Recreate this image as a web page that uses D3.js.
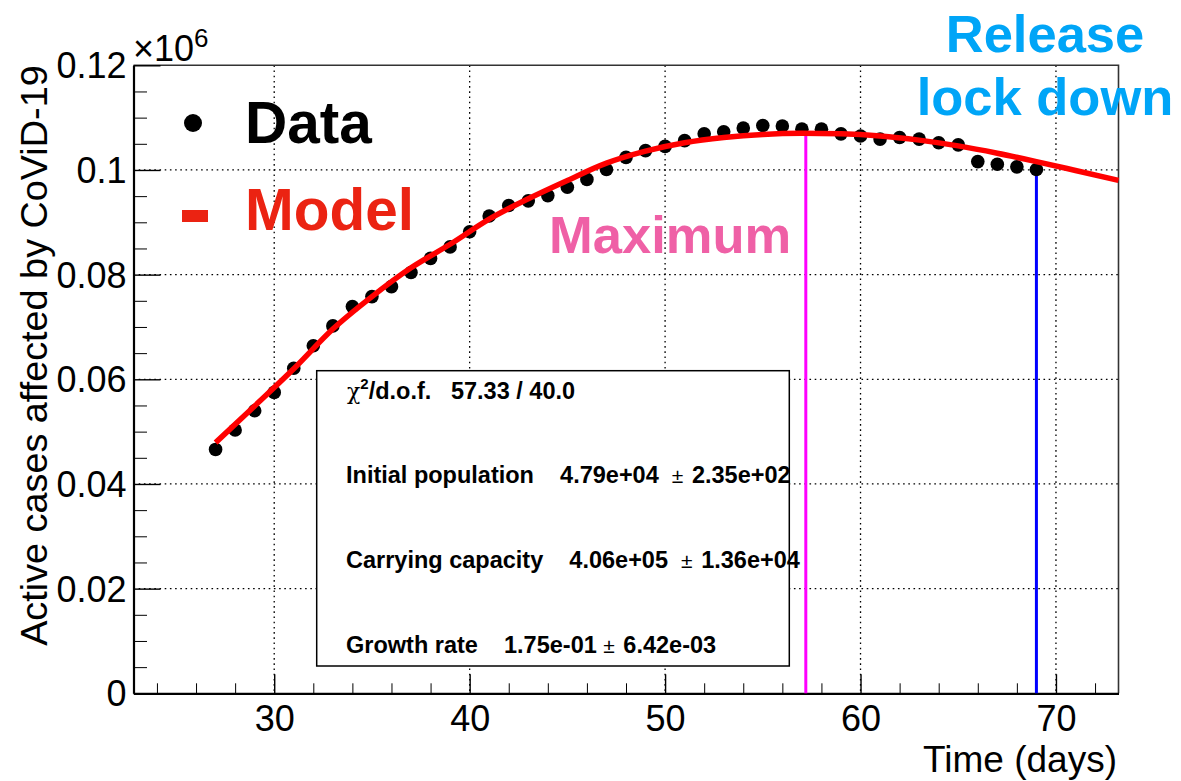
<!DOCTYPE html>
<html>
<head>
<meta charset="utf-8">
<script src="https://cdn.jsdelivr.net/npm/d3@7"></script>
<style>
  html, body { margin: 0; padding: 0; background: #ffffff; }
  svg { display: block; font-family: "Liberation Sans", Arial, Helvetica, sans-serif; }
  .stat { white-space: pre; }
</style>
</head>
<body>
<svg id="chart" width="1181" height="781"></svg>
<script>
// Active cases (in units of 10^6) per day
const days = [27, 28, 29, 30, 31, 32, 33, 34, 35, 36, 37, 38, 39, 40, 41, 42, 43, 44, 45, 46, 47,
              48, 49, 50, 51, 52, 53, 54, 55, 56, 57, 58, 59, 60, 61, 62, 63, 64, 65, 66, 67, 68, 69];
const activeCases = [0.0466, 0.0503, 0.0540, 0.0575, 0.0621, 0.0664, 0.0702, 0.0739, 0.0758, 0.0777,
                     0.0804, 0.0831, 0.0853, 0.0882, 0.0912, 0.0932, 0.0941, 0.0951, 0.0967, 0.0982,
                     0.1001, 0.1024, 0.1037, 0.1045, 0.1056, 0.1069, 0.1073, 0.1080, 0.1085, 0.1084,
                     0.1078, 0.1078, 0.1069, 0.1065, 0.1059, 0.1062, 0.1059, 0.1052, 0.1048, 0.1016,
                     0.1011, 0.1006, 0.1001];

// Fitted model curve
const modelDays = [27, 29, 31, 33, 35, 37, 39, 41, 43, 45, 47, 49, 51, 53, 55, 57, 59, 61, 63, 65, 67, 69, 71, 73.2];
const modelValues = [0.0479, 0.0549, 0.0620, 0.0696, 0.0758, 0.0813, 0.0858, 0.0906, 0.0945, 0.0980,
                     0.1013, 0.1036, 0.1052, 0.1062, 0.1068, 0.1070, 0.1069, 0.1065, 0.1057, 0.1046,
                     0.1032, 0.1016, 0.0999, 0.0980];

// Vertical markers: maximum of the model and release of the lock down
const markerDays = [57.2, 69];
const markerTops = [0.1070, 0.1016];
const markerColors = ["#ff00ff", "#0000ff"];

// Axis ticks
const xMajorTicks = [30, 40, 50, 60, 70];
const xMinorTicks = [24, 26, 28, 32, 34, 36, 38, 42, 44, 46, 48, 52, 54, 56, 58, 62, 64, 66, 68, 72];
const yMajorTicks = [0, 0.02, 0.04, 0.06, 0.08, 0.1, 0.12];
const yTickLabels = ["0", "0.02", "0.04", "0.06", "0.08", "0.1", "0.12"];
const yMinorTicks = [0.005, 0.01, 0.015, 0.025, 0.03, 0.035, 0.045, 0.05, 0.055, 0.065, 0.07, 0.075,
                     0.085, 0.09, 0.095, 0.105, 0.11, 0.115];

// Fit results
const statLines = [
  { label: "Initial population", value: "4.79e+04", error: "2.35e+02", gap: "  " },
  { label: "Carrying capacity", value: "4.06e+05", error: "1.36e+04", gap: "  " },
  { label: "Growth rate", value: "1.75e-01", error: "6.42e-03", gap: " " }
];
const chi2 = "57.33", ndf = "40.0";

const svg = d3.select("#chart");
const plot = { left: 133.5, right: 1118.5, top: 65.3, bottom: 693.3 };
const tickFont = "Liberation Sans, Arial, sans-serif";

const x = d3.scaleLinear().domain([22.8, 73.2]).range([plot.left, plot.right]);
const y = d3.scaleLinear().domain([0, 0.12]).range([plot.bottom, plot.top]);

// dotted grid
const grid = svg.append("g").attr("stroke", "#000").attr("stroke-width", 1.3)
  .attr("stroke-dasharray", "1.6,3.6");
grid.selectAll("line.gx").data(xMajorTicks).join("line")
  .attr("x1", d => x(d)).attr("x2", d => x(d))
  .attr("y1", plot.top).attr("y2", plot.bottom);
grid.selectAll("line.gy").data(yMajorTicks.filter(d => d > 0 && d < 0.12)).join("line")
  .attr("x1", plot.left).attr("x2", plot.right)
  .attr("y1", d => y(d)).attr("y2", d => y(d));

// frame (top and right)
svg.append("path")
  .attr("d", `M${plot.left},${plot.top}H${plot.right}V${plot.bottom}`)
  .attr("fill", "none").attr("stroke", "#333").attr("stroke-width", 1.6);

// x axis
const xAxis = svg.append("g").attr("transform", `translate(0,${plot.bottom})`)
  .call(d3.axisBottom(x).tickValues(xMajorTicks).tickSize(-19).tickSizeOuter(0).tickPadding(12)
    .tickFormat(d3.format("d")));
svg.append("g").attr("transform", `translate(0,${plot.bottom})`)
  .call(d3.axisBottom(x).tickValues(xMinorTicks).tickSize(-10).tickSizeOuter(0).tickFormat(""))
  .call(g => g.select(".domain").remove());
xAxis.select(".domain").attr("stroke-width", 2.2);
xAxis.selectAll(".tick line").attr("stroke-width", 1.4);
xAxis.selectAll(".tick text").attr("font-size", 36).attr("font-family", tickFont).attr("fill", "#000");

// y axis
const yAxis = svg.append("g").attr("transform", `translate(${plot.left},0)`)
  .call(d3.axisLeft(y).tickValues(yMajorTicks).tickSize(-27).tickSizeOuter(0).tickPadding(7)
    .tickFormat((d, i) => yTickLabels[i]));
svg.append("g").attr("transform", `translate(${plot.left},0)`)
  .call(d3.axisLeft(y).tickValues(yMinorTicks).tickSize(-13.5).tickSizeOuter(0).tickFormat(""))
  .call(g => g.select(".domain").remove());
yAxis.select(".domain").attr("stroke-width", 2.2);
yAxis.selectAll(".tick line").attr("stroke-width", 1.4);
yAxis.selectAll(".tick text").attr("font-size", 36).attr("dy", "0.35em")
  .attr("font-family", tickFont).attr("fill", "#000");
svg.selectAll(".tick line").attr("stroke", "#000");

// axis multiplier
const mult = svg.append("text").attr("x", 133).attr("y", 61).attr("font-size", 36).attr("fill", "#000");
mult.append("tspan").text("\u00d710");
mult.append("tspan").attr("font-size", 26).attr("dy", -14).text("6");

// axis titles
svg.append("text").attr("x", 1117).attr("y", 772).attr("text-anchor", "end")
  .attr("font-size", 37).attr("fill", "#000").text("Time (days)");
svg.append("text").attr("transform", `translate(47,${plot.top}) rotate(-90)`)
  .attr("text-anchor", "end").attr("font-size", 37.8).attr("fill", "#000")
  .text("Active cases affected by CoViD-19");

// stat box
const box = { x: 316.7, y: 370.7, w: 472.6, h: 295.3 };
svg.append("rect").attr("x", box.x).attr("y", box.y).attr("width", box.w).attr("height", box.h)
  .attr("fill", "#fff").attr("stroke", "#000").attr("stroke-width", 1.5);
const chiText = svg.append("text").attr("class", "stat").attr("x", 347).attr("y", 399.3)
  .attr("font-size", 23.5).attr("font-weight", "bold").attr("fill", "#000");
chiText.append("tspan").attr("font-weight", "normal").attr("font-family", "DejaVu Serif, serif")
  .attr("font-size", 22).text("\u03c7");
chiText.append("tspan").attr("font-size", 15).attr("dy", -10).text("2");
chiText.append("tspan").attr("dy", 10).text("/d.o.f.   " + chi2 + " / " + ndf);

svg.selectAll("text.statline").data(statLines).join("text")
  .attr("class", "stat statline")
  .attr("x", 346).attr("y", (d, i) => 482.7 + i * 85.3)
  .attr("font-size", 23.5).attr("font-weight", "bold").attr("fill", "#000")
  .each(function (d) {
    const t = d3.select(this);
    t.append("tspan").text(d.label + "    " + d.value + d.gap);
    t.append("tspan").attr("font-weight", "normal").attr("font-size", 21).text("\u00b1");
    t.append("tspan").attr("dx", 2).text(" " + d.error);
  });

// vertical markers
svg.selectAll("line.marker").data(markerDays).join("line")
  .attr("x1", d => x(d)).attr("x2", d => x(d))
  .attr("y1", y(0)).attr("y2", (d, i) => y(markerTops[i]))
  .attr("stroke", (d, i) => markerColors[i]).attr("stroke-width", 3);

// data points
svg.append("g").selectAll("circle").data(days).join("circle")
  .attr("cx", d => x(d)).attr("cy", (d, i) => y(activeCases[i])).attr("r", 6.8).attr("fill", "#000");

// model curve
const line = d3.line().x(d => x(d[0])).y(d => y(d[1])).curve(d3.curveMonotoneX);
svg.append("path").datum(modelDays.map((d, i) => [d, modelValues[i]]))
  .attr("d", line).attr("fill", "none").attr("stroke", "#ff0000").attr("stroke-width", 5.5);

// legend
svg.append("circle").attr("cx", 193).attr("cy", 123).attr("r", 9).attr("fill", "#000");
svg.append("text").attr("x", 245).attr("y", 143).attr("font-size", 58.5).attr("font-weight", "bold")
  .attr("fill", "#000").text("Data");
svg.append("rect").attr("x", 182).attr("y", 210).attr("width", 26).attr("height", 12).attr("fill", "#eb2312");
svg.append("text").attr("x", 245).attr("y", 230).attr("font-size", 58.5).attr("font-weight", "bold")
  .attr("fill", "#eb2312").text("Model");

// annotations
svg.append("text").attr("x", 549).attr("y", 253).attr("font-size", 52.5).attr("font-weight", "bold")
  .attr("fill", "#ef60a6").text("Maximum");
svg.append("text").attr("x", 1045).attr("y", 52).attr("text-anchor", "middle").attr("font-size", 52.5)
  .attr("font-weight", "bold").attr("fill", "#00a5f7").text("Release");
svg.append("text").attr("x", 1045).attr("y", 115).attr("text-anchor", "middle").attr("font-size", 52.5)
  .attr("font-weight", "bold").attr("fill", "#00a5f7").text("lock down");
</script>
</body>
</html>
